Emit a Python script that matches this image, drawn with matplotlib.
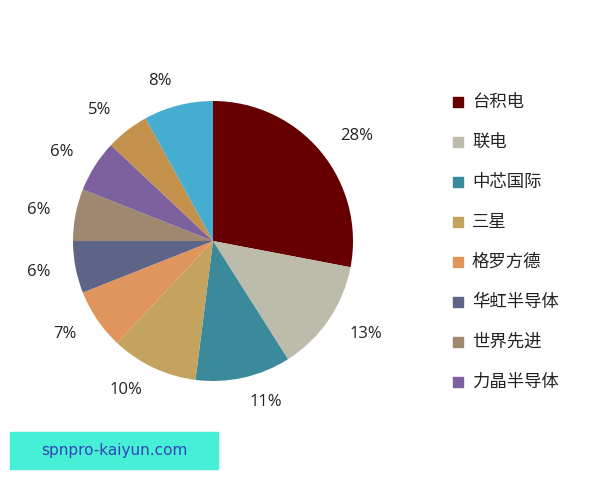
import matplotlib
matplotlib.use("Agg")
import matplotlib.pyplot as plt
from matplotlib.patches import Rectangle

plt.rcParams['font.family'] = ['Noto Sans CJK SC', 'DejaVu Sans']

names = ['台积电', '联电', '中芯国际', '三星', '格罗方德', '华虹半导体', '世界先进', '力晶半导体', '其他1', '其他2']
shares = [28, 13, 11, 10, 7, 6, 6, 6, 5, 8]
colors = ['#660000', '#BDBBAA', '#3B8A9C', '#C4A35F', '#E0955C', '#5E6487',
          '#A08870', '#7C619E', '#C4914D', '#45ADCF']
legend_names = names[:8]

fig = plt.figure(figsize=(6, 4.8), dpi=100)
ax = fig.add_axes([(213 - 140) / 600, (480 - 381) / 480, 280 / 600, 280 / 480])
wedges, texts = ax.pie(shares, colors=colors, startangle=90, counterclock=False,
                       labels=[f'{v}%' for v in shares], labeldistance=1.18,
                       textprops={'fontsize': 12, 'color': '#222222',
                                  'family': ['Open Sans', 'DejaVu Sans']})
ax.set_xlim(-1, 1)
ax.set_ylim(-1, 1)
ax.set_aspect('equal')

# legend
for i, name in enumerate(legend_names):
    y = 1 - (102 + 40 * i) / 480
    fig.patches.append(Rectangle((453 / 600, y - 5 / 480), 10 / 600, 10 / 480,
                                 transform=fig.transFigure, color=colors[i]))
    fig.text(472 / 600, y, name, fontsize=12.5, va='center', ha='left', color='#222222')

# watermark box
fig.patches.append(Rectangle((10 / 600, 1 - 469 / 480), 208 / 600, 37 / 480,
                             transform=fig.transFigure, color='#46F0D6'))
fig.text(114 / 600, 1 - 451 / 480, 'spnpro-kaiyun.com', fontsize=11, color='#3344BB',
         ha='center', va='center', family=['DejaVu Sans'])

fig.savefig('out.png', dpi=100)
